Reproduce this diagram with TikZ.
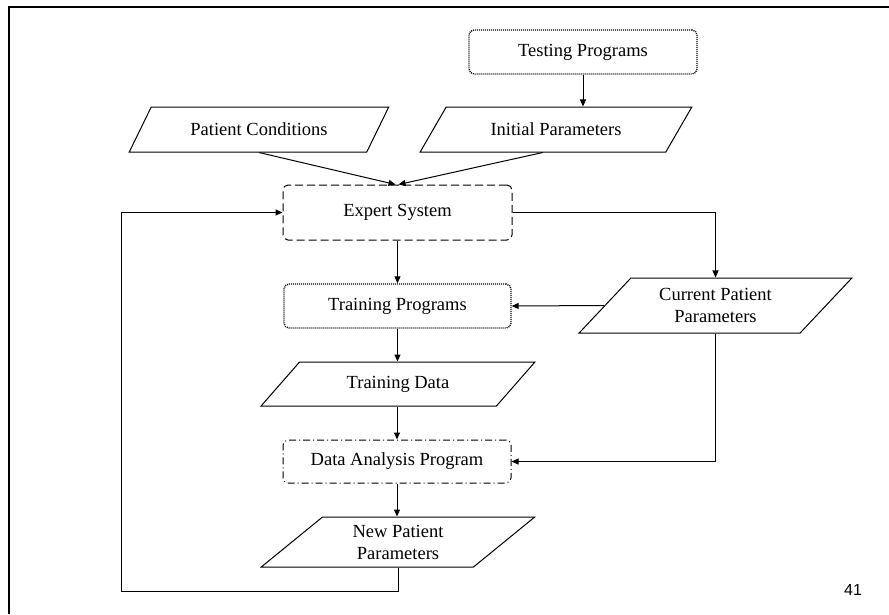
\documentclass[tikz,border=0pt]{standalone}
\usepackage{fontspec}
\setmainfont{Liberation Serif}
\newfontfamily\pagefont{Liberation Sans}
\usetikzlibrary{shapes.geometric, arrows.meta}

\tikzset{
  process/.style={draw, rounded corners=5pt, line width=1pt, align=center},
  datashape/.style={draw, trapezium, trapezium left angle=#1, trapezium right angle=180-#1,
    trapezium stretches=true, line width=1pt, align=center, inner sep=0pt},
  flow/.style={line width=1pt, -{Triangle[length=7pt,width=6pt]}},
}

\begin{document}
\begin{tikzpicture}[x=1pt, y=-1pt, font=\fontsize{18.5}{22}\selectfont]
    \useasboundingbox (0,0) rectangle (889,614);
    \draw[line width=1.3pt] (9,614) -- (9,7) -- (889,7);
    % programs
    \node[process, densely dotted, line width=1.4pt, minimum width=228pt, minimum height=44pt] (testing) at (583,52) {Testing Programs};
    \node[process, dash pattern=on 8pt off 4pt, minimum width=229pt, minimum height=55pt] (expert) at (397.5,212.5) {Expert System};
    \node[process, densely dotted, line width=1.4pt, minimum width=227pt, minimum height=44pt] (training) at (397.5,306) {Training Programs};
    \node[process, dash pattern=on 7pt off 3pt on 1pt off 3pt, minimum width=228pt, minimum height=43pt] (analysis) at (397,461.5) {Data Analysis Program};
    % data
    \node[datashape=43, minimum width=260pt, minimum height=45pt] (conditions) at (259,129.5) {Patient Conditions};
    \node[datashape=40, minimum width=272pt, minimum height=45pt] (initial) at (556,129.5) {Initial Parameters};
    \node[datashape=45, minimum width=273pt, minimum height=55pt] (current) at (715.5,305.5) {Current Patient\\Parameters};
    \node[datashape=39, minimum width=274pt, minimum height=44pt] (tdata) at (398,384) {Training Data};
    \node[datashape=43, minimum width=274pt, minimum height=50pt] (newpar) at (398,542) {New Patient\\Parameters};
    \node[font=\pagefont\fontsize{16}{18}\selectfont] (pagenum) at (853,590) {41};
    \coordinate (loopcorner) at (121,591);
    % connectors
    \draw[flow] (testing.south) -- (testing.south |- initial.north);
    \draw[flow] (conditions.south) -- ([xshift=-2pt]expert.north);
    \draw[flow] (initial.bottom side) -- ([xshift=1pt]expert.north);
    \draw[flow] (expert.south) -- (training.north);
    \draw[flow] (expert.east) -| (current.north);
    \draw[flow] (current.left side) -- (training.east);
    \draw[flow] (training.south) -- (training.south |- tdata.north);
    \draw[flow] (analysis.north |- tdata.south) -- (analysis.north);
    \draw[flow] (current.south) |- (analysis.east);
    \draw[flow] (analysis.south) -- (analysis.south |- newpar.north);
    \draw[flow] (newpar.south) |- (loopcorner) |- (expert.west);
\end{tikzpicture}
\end{document}
